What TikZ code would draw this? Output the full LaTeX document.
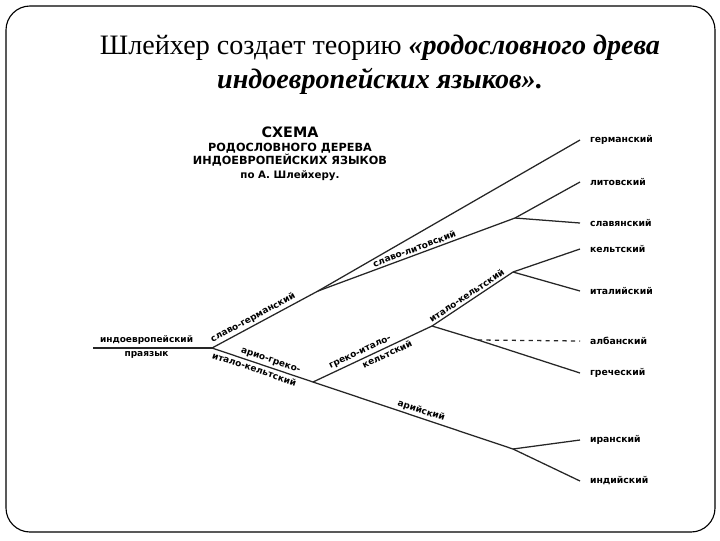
\documentclass[tikz,border=0pt]{standalone}
\usepackage{fontspec}
\setmainfont{Liberation Serif}
\newfontfamily\schemafont{DejaVu Sans}
\usetikzlibrary{positioning}

\begin{document}
\begin{tikzpicture}[
        x=0.025cm, y=-0.025cm,
        % Стили
        frame/.style={draw=black, line width=0.8pt, rounded corners=0.6cm},
        title/.style={align=center, font=\fontsize{20}{24}\selectfont},
        header/.style={align=center, inner sep=0pt, font=\schemafont\bfseries\fontsize{8}{9.6}\selectfont},
        branch/.style={draw=black!85, line width=0.9pt},
        trunk/.style={draw=black!85, line width=2pt},
        dashbranch/.style={branch, dashed},
        lang/.style={anchor=west, inner xsep=0.3mm, inner ysep=0.5mm, outer xsep=2.2mm, font=\schemafont\bfseries\fontsize{6.6}{8}\selectfont},
        tag/.style={sloped, inner sep=1.5pt, font=\schemafont\bfseries\fontsize{6.4}{8}\selectfont}
    ]

    \useasboundingbox (0,0) rectangle (720,540);
    \draw[frame] (6,6) rectangle (715,532);

    % Заголовок слайда
    \node[title] (heading) at (380,65) {Шлейхер создает теорию \textbf{\textit{«родословного древа}}\\\textbf{\textit{индоевропейских языков».}}};

    % Подпись схемы
    \node[header] (schema) at (290,154) {{\fontsize{10.2}{10}\selectfont СХЕМА}\\РОДОСЛОВНОГО ДЕРЕВА\\ИНДОЕВРОПЕЙСКИХ ЯЗЫКОВ\\{\fontsize{7.3}{9.6}\selectfont по А. Шлейхеру.}};

    % Точки ветвления
    \coordinate (root) at (93,348);
    \coordinate (proto) at (212,348);
    \coordinate (slavgerm) at (318,291);
    \coordinate (slavlit) at (515,218);
    \coordinate (ariogrec) at (313,382);
    \coordinate (grecital) at (432,326);
    \coordinate (italcelt) at (513,272);
    \coordinate (grecalb) at (478,340);
    \coordinate (aryan) at (513,449);

    % Языки
    \node[lang] (german) at (580,140) {германский};
    \node[lang] (lithuan) at (580,182) {литовский};
    \node[lang] (slavic) at (580,223) {славянский};
    \node[lang] (celtic) at (580,249) {кельтский};
    \node[lang] (italic) at (580,291) {италийский};
    \node[lang] (albanian) at (580,341) {албанский};
    \node[lang] (greek) at (580,373) {греческий};
    \node[lang] (iranian) at (580,440) {иранский};
    \node[lang] (indian) at (580,481) {индийский};

    % ---------------- ВЕТВИ ---------------- %

    \draw[trunk] (root) -- node[tag, above, pos=0.45] (ieLabel) {индоевропейский}
        node[tag, below, pos=0.45] (pyLabel) {праязык} (proto);

    \draw[branch] (proto) -- node[tag, above, pos=0.42] (sgLabel) {славо-германский} (slavgerm);
    \draw[branch] (slavgerm) -- (german.west);
    \draw[branch] (slavgerm) -- node[tag, above, pos=0.5] (slLabel) {славо-литовский} (slavlit);
    \draw[branch] (slavlit) -- (lithuan.west);
    \draw[branch] (slavlit) -- (slavic.west);

    \draw[branch] (proto) -- node[tag, above, pos=0.56] (agLabel) {арио-греко-}
        node[tag, below, pos=0.44] (ikLabel) {итало-кельтский} (ariogrec);
    \draw[branch] (ariogrec) -- node[tag, above, pos=0.42] (giLabel) {греко-итало-}
        node[tag, below, pos=0.6] (kLabel) {кельтский} (grecital);
    \draw[branch] (grecital) -- node[tag, above, pos=0.47] (icLabel) {итало-кельтский} (italcelt);
    \draw[branch] (italcelt) -- (celtic.west);
    \draw[branch] (italcelt) -- (italic.west);
    \draw[branch] (grecital) -- (grecalb);
    \draw[dashbranch] (grecalb) -- (albanian.west);
    \draw[branch] (grecalb) -- (greek.west);

    \draw[branch] (ariogrec) -- node[tag, above, pos=0.53] (arLabel) {арийский} (aryan);
    \draw[branch] (aryan) -- (iranian.west);
    \draw[branch] (aryan) -- (indian.west);

\end{tikzpicture}
\end{document}
